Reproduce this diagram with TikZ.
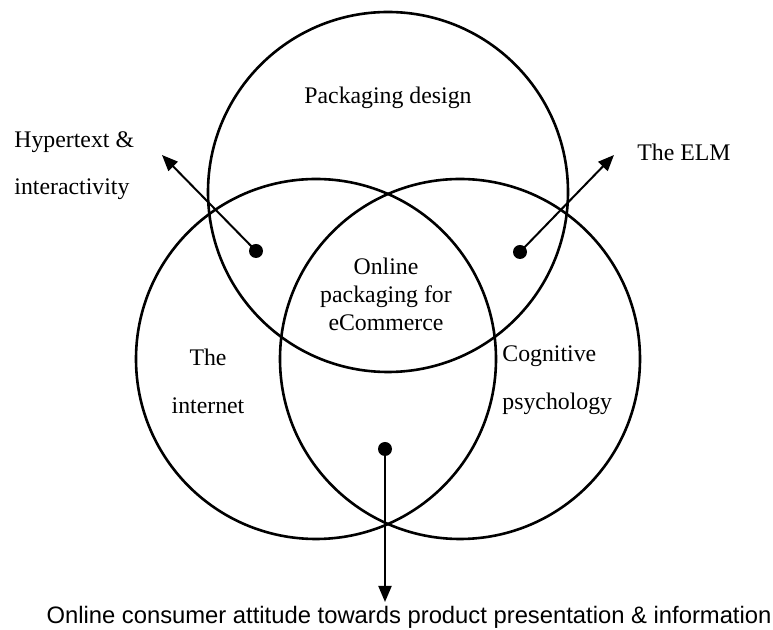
\documentclass[tikz,border=0pt]{standalone}
\usepackage{fontspec}
\setmainfont{Liberation Serif}
\newfontfamily\labelsans{Liberation Sans}
\usetikzlibrary{arrows.meta}

\tikzset{
  ring/.style={draw, circle, minimum size=180pt, inner sep=0pt, line width=1.3pt},
  dot/.style={circle, fill, inner sep=0pt, minimum size=7pt},
  pointer/.style={-{Triangle[length=8pt, width=6.5pt]}, line width=1pt},
  lbl/.style={font=\fontsize{11.9}{24}\selectfont, inner sep=0pt},
}

\begin{document}
\begin{tikzpicture}[x=0.5pt, y=-0.5pt]
	\useasboundingbox (0,0) rectangle (773,630);

	% the three overlapping fields
	\node[ring] (design) at (388,192) {};
	\node[ring] (internet) at (316,359) {};
	\node[ring] (psych) at (460,359) {};

	% labels inside the circles (base = last line)
	\node[lbl, anchor=base] (designLbl) at (388,104) {Packaging design};
	\node[lbl, anchor=base, align=center] (netLbl) at (208,414) {The\\internet};
	\node[lbl, anchor=base west, align=left] (psychLbl) at (502,410) {Cognitive\\psychology};
	\node[lbl, anchor=base, align=center, font=\fontsize{11.9}{14}\selectfont] (core) at (386,331)
		{Online\\packaging for\\eCommerce};

	% overlap markers
	\node[dot] (hyperDot) at (256,251) {};
	\node[dot] (elmDot) at (520,252) {};
	\node[dot] (attDot) at (385,449) {};

	\coordinate (hyperTip) at (162,155);
	\coordinate (elmTip) at (614,155);
	\coordinate (attTip) at (385,602);

	\draw[pointer] (hyperDot.center) -- (hyperTip);
	\draw[pointer] (elmDot.center) -- (elmTip);
	\draw[pointer] (attDot.center) -- (attTip);

	% outside labels
	\node[lbl, anchor=base west, align=left, font=\fontsize{11.9}{23.5}\selectfont] (hyperLbl) at (14,195)
		{Hypertext \&\\interactivity};
	\node[lbl, anchor=base west] (elmLbl) at (637,161) {The ELM};
	\node[lbl, anchor=base, font=\labelsans\fontsize{11.9}{14}\selectfont] (attLbl) at (409,624)
		{Online consumer attitude towards product presentation \& information};
\end{tikzpicture}
\end{document}
